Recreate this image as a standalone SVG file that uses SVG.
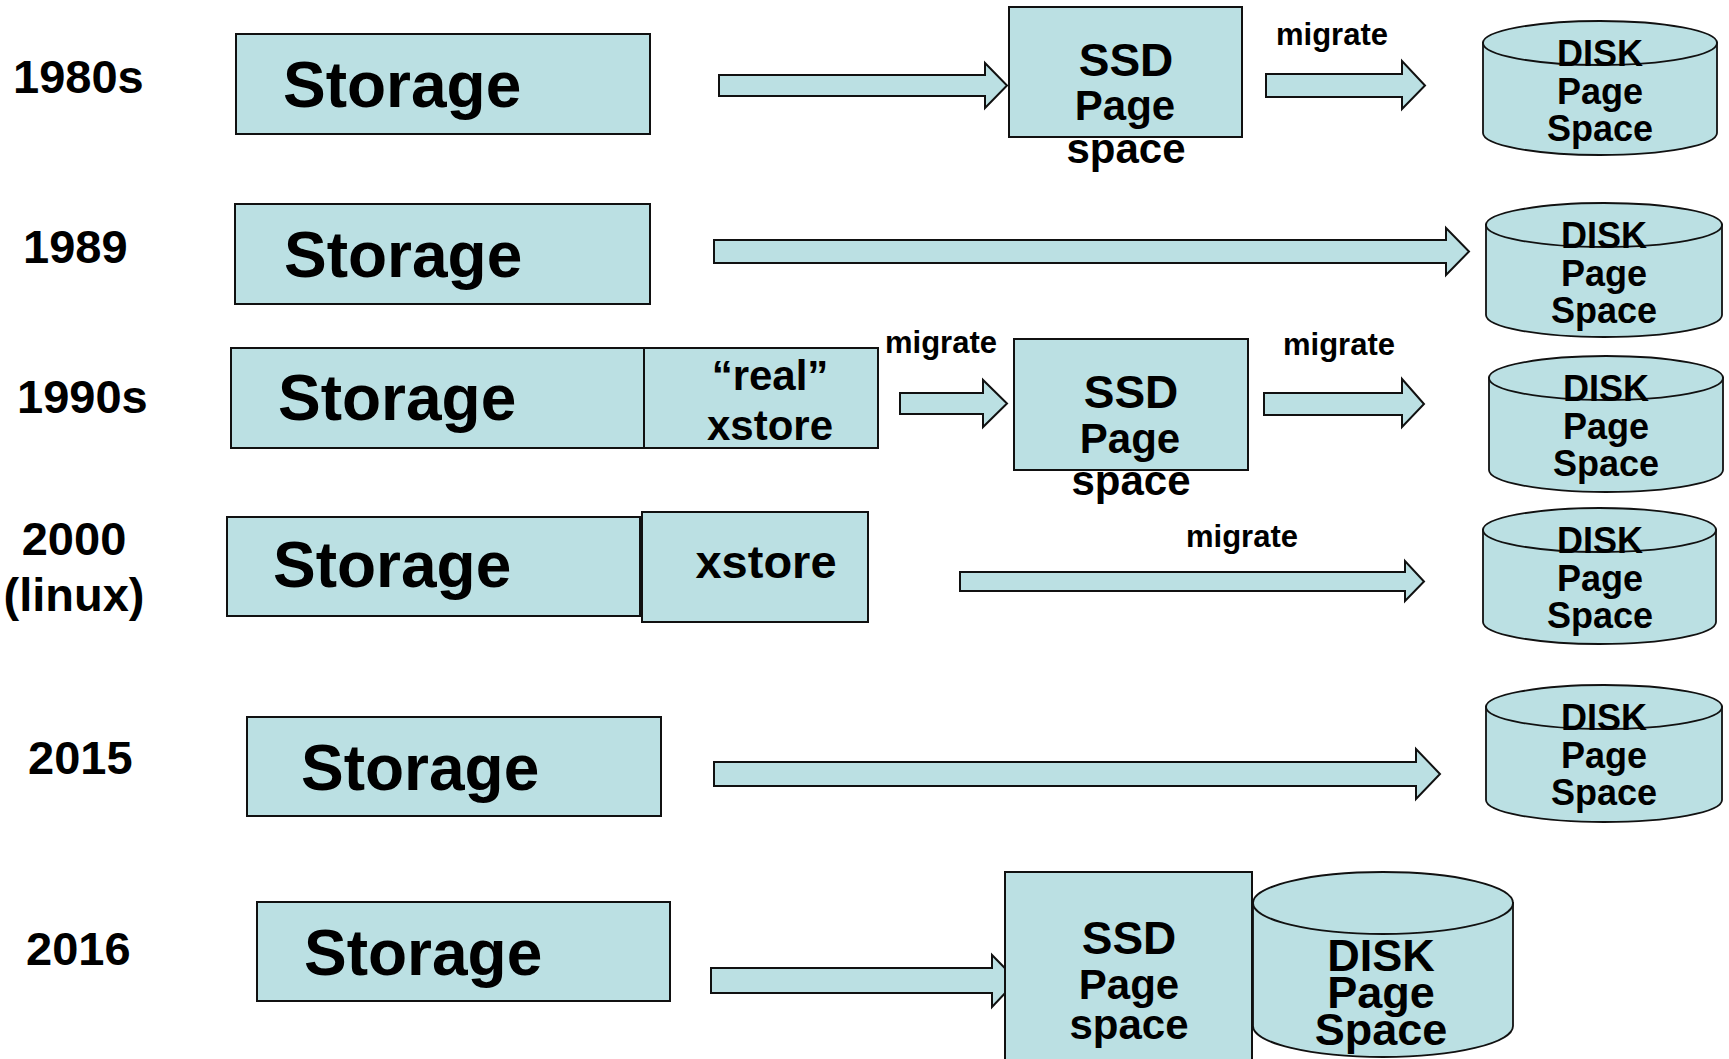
<svg xmlns="http://www.w3.org/2000/svg" width="1729" height="1059" viewBox="0 0 1729 1059">
  <style>
    .box { fill: #BBE0E3; stroke: #111; stroke-width: 2; }
    .cyl { fill: #BBE0E3; stroke: #111; stroke-width: 1.8; }
    .arrow { fill: #BBE0E3; stroke: #111; stroke-width: 2; stroke-linejoin: miter; }
    text { font-family: "Liberation Sans", Arial, sans-serif; font-weight: bold; fill: #000; }
    .year { font-size: 47px; }
    .big { font-size: 64px; }
    .ssd { font-size: 46px; text-anchor: middle; }
    .pg { font-size: 42px; text-anchor: middle; }
    .disk { font-size: 36px; text-anchor: middle; }
    .mig { font-size: 31px; }
    .mid { text-anchor: middle; }
  </style>

  <!-- year labels -->
  <g id="labels">
    <text class="year" x="13" y="93">1980s</text>
    <text class="year" x="23" y="263">1989</text>
    <text class="year" x="17" y="413">1990s</text>
    <text class="year mid" x="74" y="555">2000</text>
    <text class="year mid" x="74" y="611">(linux)</text>
    <text class="year" x="28" y="774">2015</text>
    <text class="year" x="26" y="965">2016</text>
  </g>

  <!-- connectors: block arrows and their labels -->
  <g id="connectors">
    <polygon class="arrow" points="719,75 985,75 985,63 1007,85.5 985,108 985,96 719,96"/>
    <polygon class="arrow" points="1266,74 1402,74 1402,61 1425,85.5 1402,109 1402,97 1266,97"/>
    <polygon class="arrow" points="714,240 1446,240 1446,228 1469,251.5 1446,275 1446,263 714,263"/>
    <polygon class="arrow" points="900,393 983,393 983,380 1007,403.5 983,427 983,414 900,414"/>
    <polygon class="arrow" points="1264,393 1402,393 1402,379 1424,404 1402,427 1402,415 1264,415"/>
    <polygon class="arrow" points="960,572 1405,572 1405,561 1424,581.5 1405,601 1405,591 960,591"/>
    <polygon class="arrow" points="714,762 1416,762 1416,749 1440,774 1416,799 1416,786 714,786"/>
    <polygon class="arrow" points="711,968 992,968 992,955 1017,980.5 992,1007 992,993 711,993"/>
    <text class="mig" x="1276" y="45">migrate</text>
    <text class="mig" x="885" y="353">migrate</text>
    <text class="mig" x="1283" y="355">migrate</text>
    <text class="mig" x="1186" y="547">migrate</text>
  </g>

  <!-- 1980s -->
  <g id="storage-1980s">
    <rect class="box" x="236" y="34" width="414" height="100"/>
    <text class="big" x="283" y="107">Storage</text>
  </g>
  <g id="ssd-1980s">
    <rect class="box" x="1009" y="7" width="233" height="130"/>
    <text class="ssd" x="1126" y="76">SSD</text>
    <text class="pg" x="1125" y="120">Page</text>
    <text class="pg" x="1126" y="163">space</text>
  </g>
  <g id="disk-1980s">
    <path class="cyl" d="M1483,43 L1483,133 A117,22 0 0 0 1717,133 L1717,43 Z"/>
    <ellipse class="cyl" cx="1600" cy="43" rx="117" ry="22"/>
    <text class="disk" x="1600" y="66">DISK</text>
    <text class="disk" x="1600" y="104">Page</text>
    <text class="disk" x="1600" y="141">Space</text>
  </g>

  <!-- 1989 -->
  <g id="storage-1989">
    <rect class="box" x="235" y="204" width="415" height="100"/>
    <text class="big" x="284" y="277">Storage</text>
  </g>
  <g id="disk-1989">
    <path class="cyl" d="M1486,225 L1486,315 A118,22 0 0 0 1722,315 L1722,225 Z"/>
    <ellipse class="cyl" cx="1604" cy="225" rx="118" ry="22"/>
    <text class="disk" x="1604" y="248">DISK</text>
    <text class="disk" x="1604" y="286">Page</text>
    <text class="disk" x="1604" y="323">Space</text>
  </g>

  <!-- 1990s -->
  <g id="storage-1990s">
    <rect class="box" x="231" y="348" width="413" height="100"/>
    <text class="big" x="278" y="420">Storage</text>
  </g>
  <g id="xstore-1990s">
    <rect class="box" x="644" y="348" width="234" height="100"/>
    <text class="pg" x="770" y="390">“real”</text>
    <text class="pg" x="770" y="440">xstore</text>
  </g>
  <g id="ssd-1990s">
    <rect class="box" x="1014" y="339" width="234" height="131"/>
    <text class="ssd" x="1131" y="408">SSD</text>
    <text class="pg" x="1130" y="453">Page</text>
    <text class="pg" x="1131" y="495">space</text>
  </g>
  <g id="disk-1990s">
    <path class="cyl" d="M1489,378 L1489,470 A117,22 0 0 0 1723,470 L1723,378 Z"/>
    <ellipse class="cyl" cx="1606" cy="378" rx="117" ry="22"/>
    <text class="disk" x="1606" y="401">DISK</text>
    <text class="disk" x="1606" y="439">Page</text>
    <text class="disk" x="1606" y="476">Space</text>
  </g>

  <!-- 2000 (linux) -->
  <g id="storage-2000">
    <rect class="box" x="227" y="517" width="413" height="99"/>
    <text class="big" x="273" y="587">Storage</text>
  </g>
  <g id="xstore-2000">
    <rect class="box" x="642" y="512" width="226" height="110"/>
    <text x="766" y="578" font-size="47" text-anchor="middle">xstore</text>
  </g>
  <g id="disk-2000">
    <path class="cyl" d="M1483,530 L1483,622 A116.5,22 0 0 0 1716,622 L1716,530 Z"/>
    <ellipse class="cyl" cx="1599.5" cy="530" rx="116.5" ry="22"/>
    <text class="disk" x="1600" y="553">DISK</text>
    <text class="disk" x="1600" y="591">Page</text>
    <text class="disk" x="1600" y="628">Space</text>
  </g>

  <!-- 2015 -->
  <g id="storage-2015">
    <rect class="box" x="247" y="717" width="414" height="99"/>
    <text class="big" x="301" y="790">Storage</text>
  </g>
  <g id="disk-2015">
    <path class="cyl" d="M1486,707 L1486,800 A118,22 0 0 0 1722,800 L1722,707 Z"/>
    <ellipse class="cyl" cx="1604" cy="707" rx="118" ry="22"/>
    <text class="disk" x="1604" y="730">DISK</text>
    <text class="disk" x="1604" y="768">Page</text>
    <text class="disk" x="1604" y="805">Space</text>
  </g>

  <!-- 2016 -->
  <g id="storage-2016">
    <rect class="box" x="257" y="902" width="413" height="99"/>
    <text class="big" x="304" y="975">Storage</text>
  </g>
  <g id="ssd-2016">
    <rect class="box" x="1005" y="872" width="247" height="200"/>
    <text class="ssd" x="1129" y="954">SSD</text>
    <text class="pg" x="1129" y="999">Page</text>
    <text class="pg" x="1129" y="1039">space</text>
  </g>
  <g id="disk-2016">
    <path class="cyl" d="M1253,903 L1253,1026 A130,31 0 0 0 1513,1026 L1513,903 Z"/>
    <ellipse class="cyl" cx="1383" cy="903" rx="130" ry="31"/>
    <text x="1381" y="971" font-size="45" text-anchor="middle">DISK</text>
    <text x="1381" y="1008" font-size="45" text-anchor="middle">Page</text>
    <text x="1381" y="1045" font-size="45" text-anchor="middle">Space</text>
  </g>
</svg>
